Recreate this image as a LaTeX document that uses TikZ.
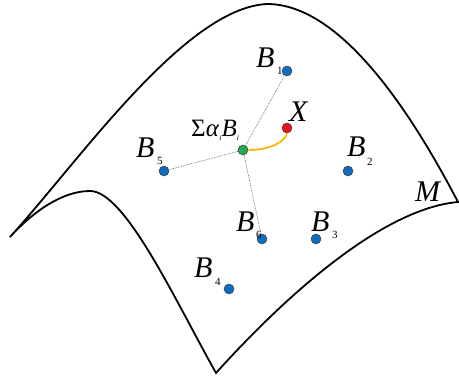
\documentclass[tikz,border=0pt]{standalone}
\usepackage{fontspec}
\setmainfont{Liberation Serif}
\definecolor{dotblue}{RGB}{16,108,192}
\definecolor{dotgreen}{RGB}{30,170,75}
\definecolor{dotred}{RGB}{232,18,26}
\definecolor{curveorange}{RGB}{245,185,10}
\tikzset{
  pt/.style={circle,draw=black!75,line width=0.5pt,inner sep=0pt,minimum size=10pt},
  bluept/.style={pt,fill=dotblue},
  big/.style={anchor=base west,inner sep=0pt,font=\fontsize{30}{30}\selectfont\itshape},
  sub/.style={anchor=base west,inner sep=0pt,font=\fontsize{11}{11}\selectfont},
  guide/.style={draw=black!60,line width=0.7pt,densely dotted},
  surf/.style={draw=black,line width=1.8pt,line join=miter}
}
\begin{document}
\begin{tikzpicture}[x=1pt,y=-1pt]
\useasboundingbox (0,0) rectangle (459,379);
% surface outline
\draw[surf] (10,237) .. controls (80,160) and (185,8) .. (267,4)
  .. controls (340,4) and (410,110) .. (458,202)
  .. controls (390,208) and (300,280) .. (216,373)
  .. controls (175,300) and (125,191) .. (90,191)
  .. controls (60,191) and (30,215) .. (10,237) -- cycle;
% points
\node[bluept] (b1) at (287,71) {};
\node[bluept] (b2) at (348,171) {};
\node[bluept] (b3) at (316,239) {};
\node[bluept] (b4) at (229,289) {};
\node[bluept] (b5) at (164,171) {};
\node[bluept] (b6) at (262,239) {};
\node[pt,fill=dotred] (x) at (287,128) {};
\node[pt,fill=dotgreen] (g) at (243,150) {};
% guides
\draw[guide] (g) -- (b1);
\draw[guide] (g) -- (b5);
\draw[guide] (g) -- (b6);
\draw[curveorange,line width=1.8pt] (g.east) .. controls (270,150) and (285,142) .. (x.south);
% labels
\node[big] (lb1) at (256,68) {B};
\node[sub] (s1) at (277,75) {1};
\node[big] (lb5) at (136,158) {B};
\node[sub] (s5) at (157,165) {5};
\node[big] (lb2) at (347,157) {B};
\node[sub] (s2) at (367,166) {2};
\node[big] (lb6) at (236,232) {B};
\node[sub] (s6) at (256,239) {6};
\node[big] (lb3) at (311,232) {B};
\node[sub] (s3) at (332,239) {3};
\node[big] (lb4) at (194,278) {B};
\node[sub] (s4) at (215,286) {4};
\node[big] (lx) at (289,122) {X};
\node[big] (lm) at (415,202) {M};
\node[anchor=base west,inner sep=0pt,font=\fontsize{25}{25}\selectfont] (ls) at (191,137)
  {Σ\textit{α}\raisebox{-4pt}{\fontsize{8}{8}\selectfont\textit{i}}\textit{B}\raisebox{-4pt}{\fontsize{8}{8}\selectfont\textit{i}}};
\end{tikzpicture}
\end{document}
